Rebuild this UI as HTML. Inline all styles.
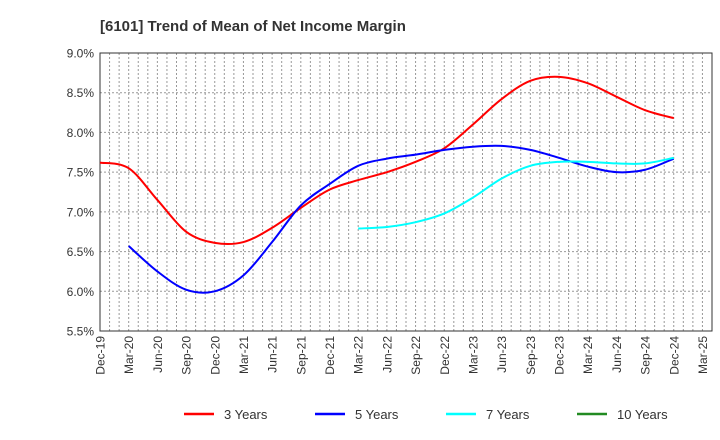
<!DOCTYPE html>
<html><head><meta charset="utf-8"><style>
body{margin:0;background:#fff;}
svg{display:block;font-family:"Liberation Sans",sans-serif;}
</style></head><body>
<svg width="720" height="440">
<text x="100" y="31" font-size="15" font-weight="bold" fill="#333">[6101]  Trend of Mean of Net Income Margin</text>
<g id="grid"></g>
<g id="axes"></g>
<g id="lines"></g>
<g id="legend"></g>
</svg>
<script>
const xLabels=["Dec-19","Mar-20","Jun-20","Sep-20","Dec-20","Mar-21","Jun-21","Sep-21","Dec-21","Mar-22","Jun-22","Sep-22","Dec-22","Mar-23","Jun-23","Sep-23","Dec-23","Mar-24","Jun-24","Sep-24","Dec-24","Mar-25"];
const yTicks=[5.5,6.0,6.5,7.0,7.5,8.0,8.5,9.0];
const s3=[7.62,7.55,7.15,6.75,6.61,6.62,6.8,7.05,7.28,7.4,7.5,7.63,7.8,8.1,8.42,8.65,8.70,8.62,8.45,8.28,8.18];
const s3Start=0;
const s5=[6.57,6.25,6.02,6.0,6.2,6.62,7.08,7.35,7.58,7.67,7.72,7.78,7.82,7.83,7.78,7.68,7.57,7.5,7.53,7.67];
const s5Start=1;
const s7=[6.79,6.81,6.87,6.98,7.18,7.42,7.58,7.63,7.63,7.61,7.61,7.68];
const s7Start=9;
const s10=[];
const s10Start=0;
const NS="http://www.w3.org/2000/svg";
const L=100,R=712,T=53,B=331,yMin=5.5,yMax=9.0;
const nMonths=64;
const X=i=>L+(R-L)*(i*3)/nMonths;
const Y=v=>B-(B-T)*(v-yMin)/(yMax-yMin);
function mk(tag,attrs,parent){const e=document.createElementNS(NS,tag);for(const k in attrs)e.setAttribute(k,attrs[k]);parent.appendChild(e);return e;}
const grid=document.getElementById('grid'),axes=document.getElementById('axes'),lines=document.getElementById('lines'),legend=document.getElementById('legend');
for(let m=1;m<nMonths;m++){const x=L+(R-L)*m/nMonths;const g=mk('line',{x1:x,x2:x,y1:T,y2:B,stroke:'#999','stroke-width':1,'stroke-dasharray':'2,2'},grid);

}
yTicks.forEach(v=>{const y=Y(v);if(v>yMin&&v<yMax){const g=mk('line',{x1:L,x2:R,y1:y,y2:y,stroke:'#999','stroke-width':1,'stroke-dasharray':'2,2'},grid);

}
const t=mk('text',{x:L-6,y:y+4.5,'text-anchor':'end','font-size':12,fill:'#333'},axes);t.textContent=v.toFixed(1)+'%';

});
const fr=mk('rect',{x:L,y:T,width:R-L,height:B-T,fill:'none',stroke:'#333','stroke-width':1},axes);


xLabels.forEach((lab,i)=>{const x=X(i)+4.5;const t=mk('text',{x:x,y:336,transform:`rotate(-90 ${x} 336)`,'text-anchor':'end','font-size':12,fill:'#333'},axes);t.textContent=lab;

});
function path(vals,start){const p=vals.map((v,i)=>[X(start+i),Y(v)]);if(p.length<2)return '';let d=`M${p[0][0]},${p[0][1]}`;
for(let i=0;i<p.length-1;i++){const p0=p[i-1]||p[i],p1=p[i],p2=p[i+1],p3=p[i+2]||p2;
d+=` C${p1[0]+(p2[0]-p0[0])/6},${p1[1]+(p2[1]-p0[1])/6} ${p2[0]-(p3[0]-p1[0])/6},${p2[1]-(p3[1]-p1[1])/6} ${p2[0]},${p2[1]}`;}return d;}
const series=[[s3,s3Start,'#ff0000','3 Years','line-3-years'],[s5,s5Start,'#0000ff','5 Years','line-5-years'],[s7,s7Start,'#00ffff','7 Years','line-7-years'],[s10,s10Start,'#228b22','10 Years','line-10-years']];
series.forEach(([v,s,c,n,name],k)=>{const d=path(v,s);if(d){const e=mk('path',{d:d,fill:'none',stroke:c,'stroke-width':2},lines);

}
const lx=[184,315,446,577][k];
const g=mk('g',{},legend);


mk('line',{x1:lx,x2:lx+30,y1:414,y2:414,stroke:c,'stroke-width':2.5},g);
const t=mk('text',{x:lx+40,y:419,'font-size':13,fill:'#333'},g);t.textContent=n;});
</script>
</body></html>
